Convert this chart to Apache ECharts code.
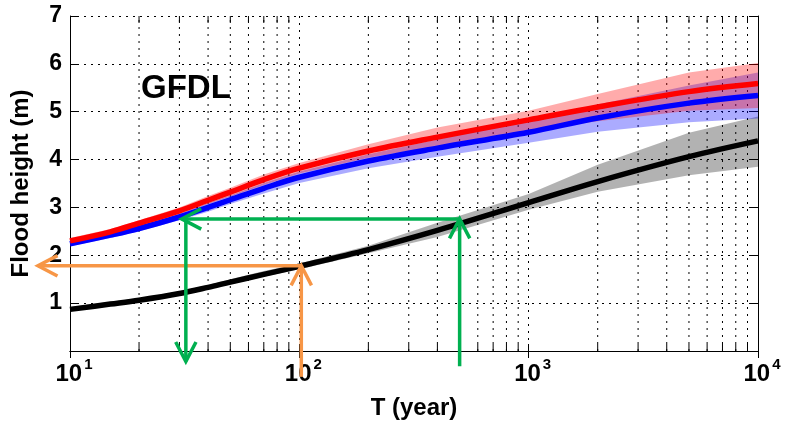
<!DOCTYPE html>
<html>
<head>
<meta charset="utf-8">
<script src="https://cdn.jsdelivr.net/npm/echarts@6/dist/echarts.min.js"></script>
<style>
  html, body { margin: 0; padding: 0; background: #fff; }
  #chart { width: 786px; height: 426px; }
</style>
</head>
<body>
<div id="chart"></div>
<script>
// return period T (years) and flood heights (m)
const periods = [10, 15, 20, 30, 40, 50, 70, 100, 200, 400, 1000, 2000, 5000, 10000];
const redMid = [2.30, 2.49, 2.67, 2.93, 3.15, 3.32, 3.58, 3.82, 4.18, 4.47, 4.83, 5.10, 5.42, 5.59];
const redLo = [2.25, 2.44, 2.61, 2.86, 3.07, 3.23, 3.47, 3.71, 4.04, 4.28, 4.60, 4.80, 5.02, 5.08];
const redHi = [2.36, 2.55, 2.73, 3.00, 3.24, 3.41, 3.69, 3.93, 4.32, 4.67, 5.02, 5.37, 5.82, 6.02];
const blueMid = [2.24, 2.42, 2.56, 2.80, 3.00, 3.16, 3.40, 3.63, 3.97, 4.24, 4.57, 4.87, 5.18, 5.34];
const blueLo = [2.19, 2.36, 2.50, 2.73, 2.91, 3.07, 3.29, 3.51, 3.82, 4.06, 4.35, 4.58, 4.78, 4.86];
const blueHi = [2.29, 2.48, 2.62, 2.87, 3.09, 3.25, 3.51, 3.75, 4.11, 4.42, 4.82, 5.15, 5.55, 5.82];
const blackMid = [0.87, 0.98, 1.06, 1.20, 1.33, 1.44, 1.60, 1.77, 2.12, 2.52, 3.10, 3.54, 4.06, 4.39];
const blackLo = [0.83, 0.94, 1.02, 1.16, 1.29, 1.39, 1.55, 1.71, 2.04, 2.38, 2.95, 3.33, 3.67, 3.85];
const blackHi = [0.92, 1.03, 1.10, 1.25, 1.38, 1.50, 1.67, 1.83, 2.20, 2.68, 3.28, 3.89, 4.56, 4.90];

// minor grid positions on the log axis
const minorTicks = [20, 30, 40, 50, 60, 70, 80, 90, 200, 300, 400, 500, 600, 700, 800, 900,
  2000, 3000, 4000, 5000, 6000, 7000, 8000, 9000];

// reading arrows: [fromT, fromH, toT, toH]
const orangeArrows = [[102, -0.54, 102, 1.78], [102, 1.78, 7.25, 1.78]];
const greenArrows = [[500, -0.32, 500, 2.76], [500, 2.76, 30.7, 2.76], [32, 2.76, 32, -0.22]];

const FONT = 'Liberation Sans, Arial, sans-serif';

const pairs = (ys) => periods.map((t, i) => [t, ys[i]]);

// band polygon: upper edge forward, lower edge back
const bandSeries = (lo, hi, color) => ({
  type: 'custom',
  silent: true,
  data: [0],
  renderItem: (params, api) => {
    const pts = [];
    periods.forEach((t, i) => pts.push(api.coord([t, hi[i]])));
    for (let i = periods.length - 1; i >= 0; i--) pts.push(api.coord([periods[i], lo[i]]));
    return {
      type: 'polygon',
      shape: { points: pts, smooth: 0 },
      style: { fill: color, stroke: null },
    };
  },
  z: 2,
})

const lineSeries = (ys, color) => ({
  type: 'line',
  data: pairs(ys),
  smooth: 0.35,
  symbol: 'none',
  lineStyle: { color: color, width: 5.5 },
  z: 4,
})

// arrow: straight shaft with an open chevron head
const arrowSeries = (rows, color) => ({
  type: 'custom',
  silent: true,
  clip: false,
  data: rows,
  encode: { x: [0, 2], y: [1, 3] },
  renderItem: (params, api) => {
    const a = api.coord([api.value(0), api.value(1)]);
    const b = api.coord([api.value(2), api.value(3)]);
    const ang = Math.atan2(b[1] - a[1], b[0] - a[0]);
    const len = 22;
    const arm = (s) => [b[0] - len * Math.cos(ang + s), b[1] - len * Math.sin(ang + s)];
    const st = { stroke: color, lineWidth: 3.5, fill: null };
    return {
      type: 'group',
      children: [
        { type: 'line', shape: { x1: a[0], y1: a[1], x2: b[0], y2: b[1] }, style: st },
        { type: 'polyline', shape: { points: [arm(0.48), b, arm(-0.48)] }, style: st },
      ],
    };
  },
  z: 6,
})

const chart = echarts.init(document.getElementById('chart'));

const option = {
  animation: false,
  title: {
    text: 'GFDL',
    left: 136,
    top: 67,
    textStyle: { fontFamily: FONT, fontSize: 33, fontWeight: 'bold', color: '#000' },
  },
  grid: { left: 70, right: 28, top: 16, bottom: 75, containLabel: false, outerBoundsMode: 'none' },
  xAxis: [
    {
      type: 'log',
      logBase: 10,
      min: 10,
      max: 10000,
      name: 'T (year)',
      nameLocation: 'middle',
      nameGap: 45,
      nameTextStyle: { fontFamily: FONT, fontSize: 24, fontWeight: 'bold', color: '#000' },
      axisLine: { lineStyle: { color: '#000', width: 1 } },
      axisTick: { inside: true, length: 7, lineStyle: { color: '#000' } },
      splitLine: { show: true, lineStyle: { color: '#000', type: [2, 5], width: 1 } },
      axisLabel: {
        margin: 6,
        padding: [0, 0, 0, 8],
        formatter: (v) => '{b|10}{s|' + Math.round(Math.log10(v)) + '}',
        rich: {
          b: { fontFamily: FONT, fontSize: 24, fontWeight: 'bold', color: '#000', lineHeight: 24, verticalAlign: 'top', padding: [5, 0, 0, 0] },
          s: { fontFamily: FONT, fontSize: 15, fontWeight: 'bold', color: '#000', lineHeight: 15, verticalAlign: 'top', padding: [0, 0, 0, 2] },
        },
      },
    },
    {
      type: 'log',
      logBase: 10,
      min: 10,
      max: 10000,
      position: 'top',
      axisLine: { lineStyle: { color: '#000', width: 1 } },
      axisTick: { inside: true, length: 7, lineStyle: { color: '#000' } },
      axisLabel: { show: false },
      splitLine: { show: false },
    },
  ],
  yAxis: [
    {
      type: 'value',
      min: 0,
      max: 7,
      interval: 1,
      name: 'Flood height (m)',
      nameLocation: 'middle',
      nameGap: 37,
      nameTextStyle: { fontFamily: FONT, fontSize: 24, fontWeight: 'bold', color: '#000' },
      axisLine: { show: true, lineStyle: { color: '#000', width: 1 } },
      axisTick: { show: true, inside: true, length: 7, lineStyle: { color: '#000' } },
      splitLine: { show: true, lineStyle: { color: '#000', type: [2, 5], width: 1 } },
      axisLabel: {
        margin: 8,
        fontFamily: FONT,
        fontSize: 23,
        fontWeight: 'bold',
        color: '#000',
        formatter: (v) => (v === 0 ? '' : String(v)),
      },
    },
    {
      type: 'value',
      min: 0,
      max: 7,
      interval: 1,
      position: 'right',
      axisLine: { show: true, lineStyle: { color: '#000', width: 1 } },
      axisTick: { show: true, inside: true, length: 7, lineStyle: { color: '#000' } },
      axisLabel: { show: false },
      splitLine: { show: false },
    },
  ],
  series: [
    // minor log grid lines + their ticks on top and bottom
    {
      type: 'custom',
      silent: true,
      data: minorTicks.map((t) => [t]),
      encode: { x: 0 },
      renderItem: (params, api) => {
        const t = api.value(0);
        const lo = api.coord([t, 0]);
        const hi = api.coord([t, 7]);
        return {
          type: 'group',
          children: [
            { type: 'line', shape: { x1: lo[0], y1: lo[1], x2: hi[0], y2: hi[1] },
              style: { stroke: '#000', lineWidth: 1, lineDash: [2, 5] } },
            { type: 'line', shape: { x1: lo[0], y1: lo[1], x2: lo[0], y2: lo[1] - 7 },
              style: { stroke: '#000', lineWidth: 1 } },
            { type: 'line', shape: { x1: hi[0], y1: hi[1], x2: hi[0], y2: hi[1] + 7 },
              style: { stroke: '#000', lineWidth: 1 } },
          ],
        };
      },
      z: 1,
    },
    bandSeries(blackLo, blackHi, 'rgba(0,0,0,0.3)'),
    bandSeries(blueLo, blueHi, 'rgba(0,0,255,0.33)'),
    bandSeries(redLo, redHi, 'rgba(255,0,0,0.33)'),
    lineSeries(blackMid, '#000000'),
    lineSeries(blueMid, '#0000ff'),
    lineSeries(redMid, '#ff0000'),
    arrowSeries(orangeArrows, '#f79646'),
    arrowSeries(greenArrows, '#00b050'),
  ],
};

chart.setOption(option);
</script>
</body>
</html>
